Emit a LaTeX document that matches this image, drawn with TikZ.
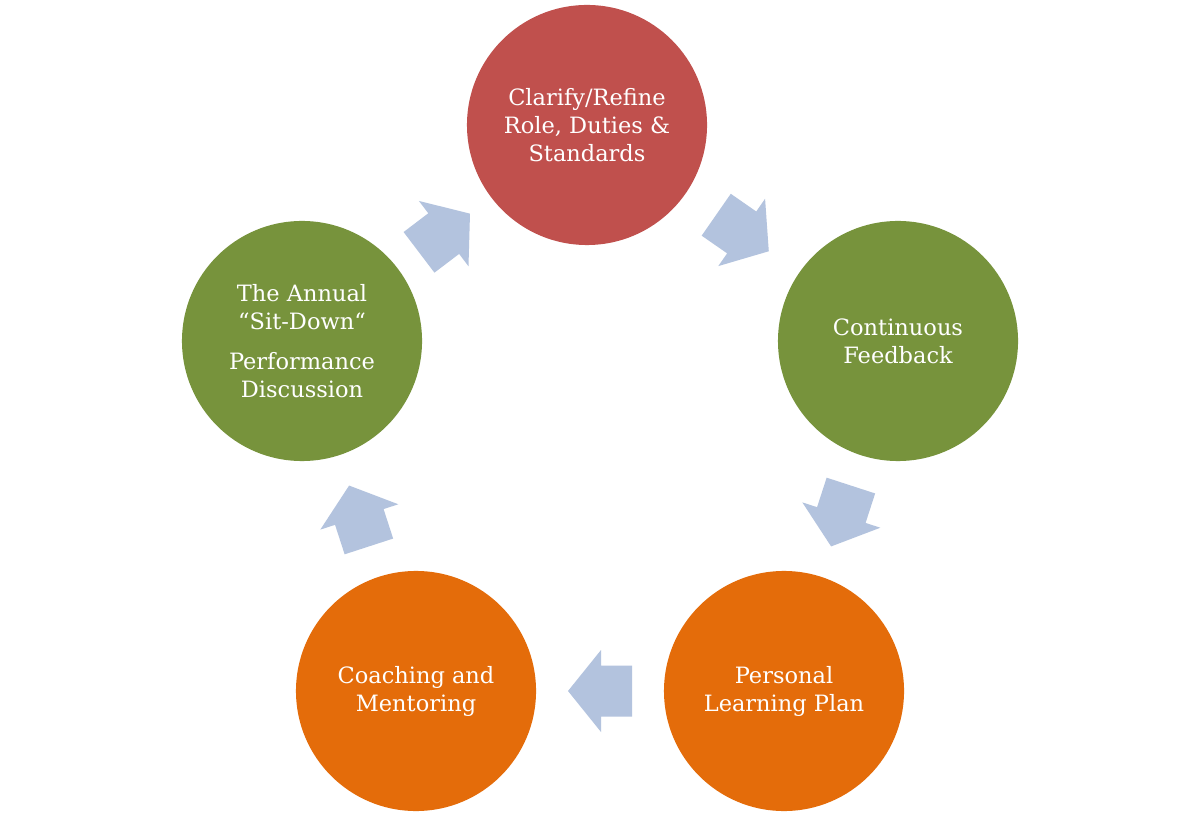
\documentclass[tikz,border=0pt]{standalone}
\usepackage{fontspec}
\setmainfont{DejaVu Serif}
\usepackage{xcolor}
\usepackage{tikz}
\usetikzlibrary{calc,positioning}
\definecolor{stepred}{HTML}{C0504D}
\definecolor{stepgreen}{HTML}{77933C}
\definecolor{steporange}{HTML}{E46C0A}
\definecolor{flowblue}{HTML}{B3C3DE}
\tikzset{flowarrow/.pic={
  \fill[flowblue] (-32,-25.5)--(-1,-25.5)--(-1,-41)--(32,0)--(-1,41)--(-1,25.5)--(-32,25.5)--cycle;}}

\begin{document}
\begin{tikzpicture}[x=0.025cm,y=0.025cm,
  every node/.style={font=\fontsize{16}{19.9}\selectfont,align=center,text=white},
  c/.style={circle,draw=none,minimum size=6cm,inner sep=0pt}]
  \useasboundingbox[fill=white] (0,0) rectangle (1200,816);
  \node[c,fill=stepred] (clarify) at (587,691) {Clarify/Refine\\Role, Duties \&\\Standards};
  \node[c,fill=stepgreen] (feedback) at (898,475) {Continuous\\Feedback};
  \node[c,fill=steporange] (plan) at (784,125) {Personal\\Learning Plan};
  \node[c,fill=steporange] (coach) at (416,125) {Coaching and\\Mentoring};
  \node[c,fill=stepgreen] (annual) at (302,475) {The Annual\\“Sit-Down“\\[0.3cm]Performance\\Discussion};
  % cycle arrows between the steps
  \pic[rotate=-34.8] at ($(clarify)!0.5!(feedback)$) {flowarrow};
  \pic[rotate=-108] at ($(feedback)!0.5!(plan)$) {flowarrow};
  \pic[rotate=180] at ($(plan)!0.5!(coach)$) {flowarrow};
  \pic[rotate=108] at ($(coach)!0.5!(annual)$) {flowarrow};
  \pic[rotate=37.2] at ($(annual)!0.5!(clarify)$) {flowarrow};
\end{tikzpicture}
\end{document}
